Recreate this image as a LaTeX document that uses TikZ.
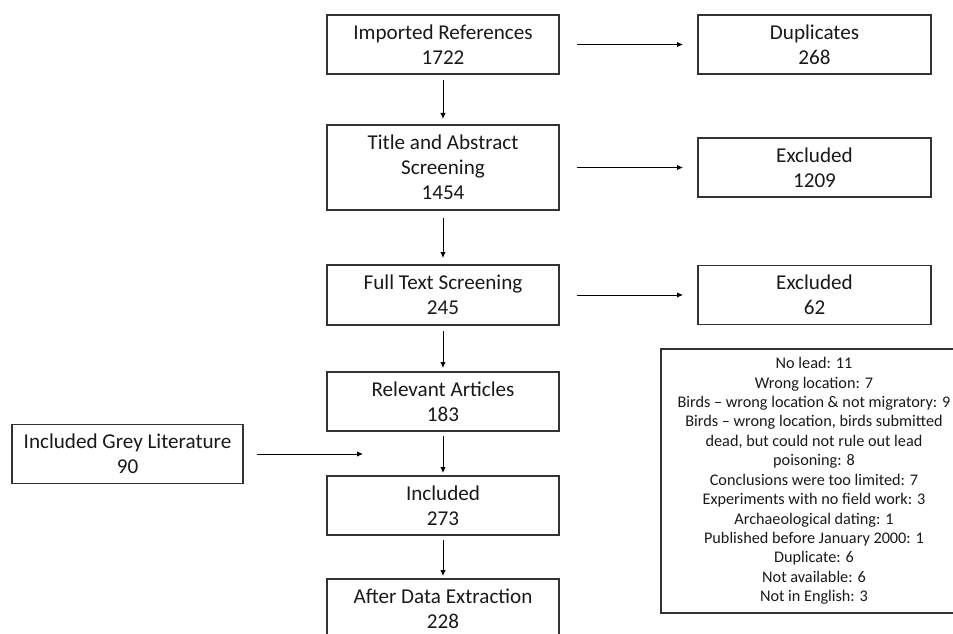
\documentclass[tikz,border=0pt]{standalone}
\usepackage{fontspec}
\setmainfont{Carlito}
\usetikzlibrary{arrows.meta,positioning}
\tikzset{
  bloco/.style={rectangle,draw=black!80,line width=1.1pt,outer sep=0pt,minimum width=232bp,minimum height=59bp,inner sep=0pt,align=center,text=black!90,font=\fontsize{21.2}{25}\selectfont},
  blocoE/.style={bloco,minimum width=233bp},
  lista/.style={rectangle,draw=black!80,line width=1.1pt,outer sep=0pt,minimum width=306bp,minimum height=264bp,inner sep=0pt,align=center,text=black!90,font=\fontsize{16.3}{19.5}\selectfont},
  seta/.style={-{Latex[length=6bp,width=5.5bp]},line width=0.9pt,black},
}

\begin{document}
\begin{tikzpicture}[x=1bp,y=-1bp]
\useasboundingbox (0,0) rectangle (953,634);
\clip (0,0) rectangle (953,634);
% coluna principal
\node[bloco] (imp) at (443,44.5) {Imported References\\1722};
\node[bloco,below=51bp of imp,minimum height=85bp] (tit) {Title and Abstract\\Screening\\1454};
\node[bloco,below=55bp of tit,minimum height=60bp] (full) {Full Text Screening\\245};
\node[bloco,below=47bp of full] (rel) {Relevant Articles\\183};
\node[bloco,below=45bp of rel] (inc) {Included\\273};
\node[bloco,below=44bp of inc] (ext) {After Data Extraction\\228};
\draw[seta,shorten <=6bp,shorten >=6bp] (imp) -- (tit);
\draw[seta,shorten <=8bp,shorten >=7bp] (tit) -- (full);
\draw[seta,shorten <=6bp,shorten >=4bp] (full) -- (rel);
\draw[seta,shorten <=5bp,shorten >=3bp] (rel) -- (inc);
\draw[seta,shorten <=5bp,shorten >=3bp] (inc) -- (ext);
% exclusoes
\node[blocoE,right=139bp of imp] (dup) {Duplicates\\268};
\node[blocoE,right=139bp of tit] (exc1) {Excluded\\1209};
\node[blocoE,right=139bp of full,minimum height=59bp] (exc2) {Excluded\\62};
\draw[seta,shorten <=18bp,shorten >=15bp] (imp) -- (dup);
\draw[seta,shorten <=18bp,shorten >=15bp] (tit) -- (exc1);
\draw[seta,shorten <=18bp,shorten >=15bp] (full.east) -- (exc2.west |- full.east);
\node[lista,anchor=north west] (motivos) at (661,349) {No lead: 11\\
Wrong location: 7\\
Birds – wrong location \& not migratory: 9\\
Birds – wrong location, birds submitted\\
dead, but could not rule out lead\\
poisoning: 8\\
Conclusions were too limited: 7\\
Experiments with no field work: 3\\
Archaeological dating: 1\\
Published before January 2000: 1\\
Duplicate: 6\\
Not available: 6\\
Not in English: 3};
% literatura cinzenta
\node[bloco,minimum width=231bp] (cinza) at (127.5,454) {Included Grey Literature\\90};
\coordinate (entrada) at ([xshift=36bp]inc.west |- cinza.east);
\draw[seta,shorten <=14bp] (cinza.east) -- (entrada);
\end{tikzpicture}
\end{document}
